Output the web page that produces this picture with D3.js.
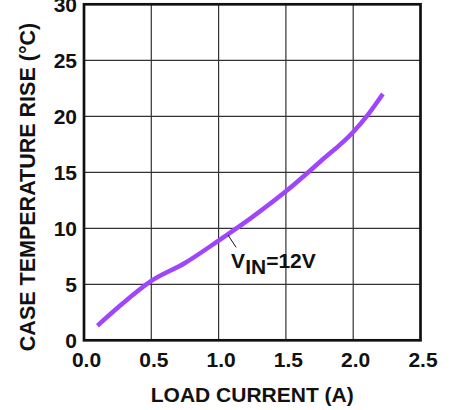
<!DOCTYPE html>
<html>
<head>
<meta charset="utf-8">
<script src="https://cdn.jsdelivr.net/npm/d3@7"></script>
<style>
  html, body { margin: 0; padding: 0; background: #fff; }
  svg { display: block; }
  text { font-family: Arial, "Liberation Sans", Helvetica, sans-serif; }
</style>
</head>
<body>
<svg id="chart" width="453" height="410"></svg>
<script>
// Data
const loadCurrent = [0.1, 0.25, 0.5, 0.75, 1.0, 1.25, 1.5, 1.75, 2.0, 2.1, 2.22];
const tempRise    = [1.3, 2.9, 5.3, 6.9, 8.9, 11.0, 13.3, 15.9, 18.6, 20.0, 22.0];
const xTicks = [0, 0.5, 1.0, 1.5, 2.0, 2.5];
const yTicks = [0, 5, 10, 15, 20, 25, 30];
const xTitle = "LOAD CURRENT (A)";
const yTitle = "CASE TEMPERATURE RISE (°C)";
const seriesLabel = { main: "V", sub: "IN", rest: "=12V" };
const labelAnchor = [1.093, 6.5];
const leader = [[1.07, 9.4], [1.13, 8.3]];

const svg = d3.select("#chart");
const mLeft = 84, mRight = 420.5, mTop = 4.3, mBottom = 340.3;

const x = d3.scaleLinear().domain([0, 2.5]).range([mLeft, mRight]);
const y = d3.scaleLinear().domain([0, 30]).range([mBottom, mTop]);

// grid
const g = svg.append("g");
g.selectAll("line.vg").data(xTicks.slice(1, -1)).join("line")
  .attr("class", "vg")
  .attr("x1", d => x(d)).attr("x2", d => x(d))
  .attr("y1", mTop).attr("y2", mBottom)
  .attr("stroke", "#333").attr("stroke-width", 1.2);
g.selectAll("line.hg").data(yTicks.slice(1, -1)).join("line")
  .attr("class", "hg")
  .attr("y1", d => y(d)).attr("y2", d => y(d))
  .attr("x1", mLeft).attr("x2", mRight)
  .attr("stroke", "#333").attr("stroke-width", 1.2);

// axes (labels only) via d3 axes
const xAxis = d3.axisBottom(x).tickValues(xTicks).tickFormat(d3.format(".1f")).tickSize(0).tickPadding(12);
const yAxis = d3.axisLeft(y).tickValues(yTicks).tickFormat(d3.format("d")).tickSize(0).tickPadding(7);

const gx = svg.append("g").attr("transform", `translate(0,${mBottom})`).call(xAxis);
const gy = svg.append("g").attr("transform", `translate(${mLeft},0)`).call(yAxis);
[gx, gy].forEach(a => {
  a.select(".domain").remove();
  a.selectAll("text")
    .attr("font-family", "Arial, 'Liberation Sans', sans-serif")
    .attr("font-size", 21).attr("font-weight", "bold").attr("fill", "#111");
});
gx.selectAll("text").attr("dx", 2);
gy.selectAll("text").attr("dy", "0.36em");

// frame
svg.append("rect")
  .attr("x", mLeft).attr("y", mTop)
  .attr("width", mRight - mLeft).attr("height", mBottom - mTop)
  .attr("fill", "none").attr("stroke", "#111").attr("stroke-width", 2.7);

// curve
const pts = loadCurrent.map((d, i) => [d, tempRise[i]]);
const line = d3.line().x(d => x(d[0])).y(d => y(d[1])).curve(d3.curveMonotoneX);
svg.append("path").datum(pts)
  .attr("d", line)
  .attr("fill", "none").attr("stroke", "#9f45fb")
  .attr("stroke-width", 4.5).attr("stroke-linecap", "butt");

// annotation
svg.append("line")
  .attr("x1", x(leader[0][0])).attr("y1", y(leader[0][1]))
  .attr("x2", x(leader[1][0])).attr("y2", y(leader[1][1]))
  .attr("stroke", "#111").attr("stroke-width", 1);
const lbl = svg.append("text")
  .attr("x", x(labelAnchor[0])).attr("y", y(labelAnchor[1]))
  .attr("font-size", 21).attr("font-weight", "bold").attr("fill", "#111");
lbl.append("tspan").text(seriesLabel.main);
lbl.append("tspan").attr("dy", 6).text(seriesLabel.sub);
lbl.append("tspan").attr("dy", -6).text(seriesLabel.rest);

// axis titles
svg.append("text")
  .attr("x", (mLeft + mRight) / 2).attr("y", 402)
  .attr("text-anchor", "middle")
  .attr("font-size", 21).attr("font-weight", "bold").attr("fill", "#111")
  .text(xTitle);
svg.append("text")
  .attr("transform", `translate(35,187) rotate(-90)`)
  .attr("text-anchor", "middle")
  .attr("font-size", 21.5).attr("font-weight", "bold").attr("fill", "#111")
  .text(yTitle);
</script>
</body>
</html>
